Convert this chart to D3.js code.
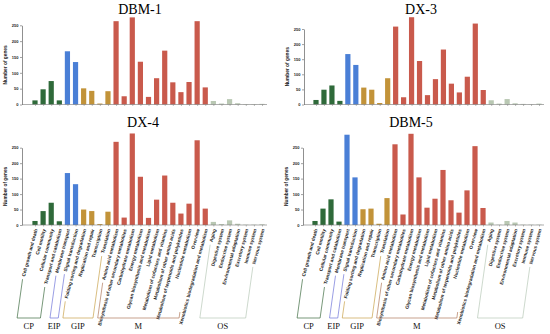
<!DOCTYPE html>
<html><head><meta charset="utf-8">
<script src="https://cdn.jsdelivr.net/npm/d3@7"></script>
<style>body{margin:0;background:#fff}svg{display:block}</style>
</head><body>
<script>
const categories = ["Cell growth and death","Cell motility","Cellular community","Transport and catabolism","Membrane transport","Signal transduction","Folding sorting and degradation","Replication and repair","Transcription","Translation","Amino acid metabolism","Biosynthesis of other secondary metabolites","Carbohydrate metabolism","Energy metabolism","Glycan biosynthesis and metabolism","Lipid metabolism","Metabolism of cofactors and vitamins","Metabolism of other amino acids","Metabolism of terpenoids and polyketides","Nucleotide metabolism","Overview","Xenobiotics biodegradation and metabolism","Aging","Digestive system","Endocrine system","Environmental adaptation","Excretory system","Immune system","Nervous system"];
const groups = ["CP","CP","CP","CP","EIP","EIP","GIP","GIP","GIP","GIP","M","M","M","M","M","M","M","M","M","M","M","M","OS","OS","OS","OS","OS","OS","OS"];
const groupNames = ["CP","EIP","GIP","M","OS"];
const dbm1 = [13,48,74,13,168,134,51,43,3,42,263,26,275,135,24,83,170,70,39,71,263,54,11,3,17,4,1,1,2];
const dx3  = [15,49,63,12,167,131,56,49,5,87,258,24,289,144,31,84,182,69,40,92,268,48,14,3,18,4,2,1,3];
const dx4  = [13,45,72,12,168,132,50,45,3,43,269,24,296,156,23,82,160,72,37,69,274,53,10,3,15,4,1,1,2];
const dbm5 = [13,53,83,11,292,154,51,53,4,87,261,34,295,154,56,85,178,80,40,112,255,55,8,1,13,8,1,1,1];
const yTicks = [0,50,100,150,200,250];

const W=550,H=334;
const svg=d3.select("body").append("svg").attr("width",W).attr("height",H);
const color=d3.scaleOrdinal().domain(groupNames).range(["#2f6a3a","#4a7fd6","#c29339","#c95a4c","#b9c8b3"]);
const bracketColor=d3.scaleOrdinal().domain(groupNames).range(["#3d6b40","#6f74d8","#c9a24a","#b07a5c","#b8c8b8"]);

const panels=[
 {title:"DBM-1",data:dbm1,ax:22,x0:35,x1:262,y0:104.5,y250:25.3,tx:140,ty:14,labels:false},
 {title:"DX-3",data:dx3,ax:304,x0:316,x1:539,y0:104.5,y250:29,tx:421,ty:14,labels:false},
 {title:"DX-4",data:dx4,ax:22,x0:35,x1:262,y0:225,y250:147.7,tx:143,ty:127,labels:true},
 {title:"DBM-5",data:dbm5,ax:303,x0:315,x1:539,y0:225,y250:147.7,tx:411,ty:127,labels:true}
];

panels.forEach(p=>{
  const g=svg.append("g");
  const x=d3.scalePoint().domain(categories).range([p.x0,p.x1]);
  const y=d3.scaleLinear().domain([0,250]).range([p.y0,p.y250]);
  g.append("text").attr("x",p.tx).attr("y",p.ty).attr("text-anchor","middle")
   .attr("font-family","Liberation Serif, serif").attr("font-size",14).text(p.title);
  g.selectAll("rect.bar").data(p.data).enter().append("rect")
   .attr("x",(d,i)=>x(categories[i])-2.6).attr("width",5.2)
   .attr("y",d=>y(d)).attr("height",d=>p.y0-y(d))
   .attr("fill",(d,i)=>color(groups[i]));
  const ya=g.append("g").attr("transform",`translate(${p.ax},0)`)
   .call(d3.axisLeft(y).tickValues(yTicks).tickSize(2).tickSizeOuter(0));
  ya.select(".domain").attr("stroke","#444").attr("stroke-width",0.6);
  ya.selectAll(".tick line").attr("stroke","#444").attr("stroke-width",0.5);
  ya.selectAll(".tick text").attr("font-size",4).attr("font-weight","bold").attr("x",-3.5)
   .attr("font-family","Liberation Sans, Arial, sans-serif").attr("fill","#222");
  g.append("text").attr("transform",`translate(${p.ax-15},${(p.y0+p.y250)/2}) rotate(-90)`)
   .attr("text-anchor","middle").attr("font-size",4.8).attr("font-weight","bold")
   .attr("font-family","Liberation Sans, Arial, sans-serif").attr("fill","#222").text("Number of genes");
  const xa=g.append("g").attr("transform",`translate(0,${p.y0})`)
   .call(d3.axisBottom(x).tickSize(1.5).tickFormat(""));
  xa.select(".domain").attr("stroke","#777").attr("stroke-width",0.6)
   .attr("d",`M${p.ax},0H${p.x1+5}`);
  xa.selectAll(".tick line").attr("stroke","#777").attr("stroke-width",0.5);
  if(p.labels){
    const ang=-75, rad=ang*Math.PI/180;
    const dir=[-Math.cos(rad),-Math.sin(rad)];
    const ly=p.y0+4;
    const lbl=g.selectAll("text.cat").data(categories).enter().append("text")
     .attr("class","cat")
     .attr("transform",c=>`translate(${x(c)+1},${ly}) rotate(${ang})`)
     .attr("text-anchor","end").attr("dy","0.35em")
     .attr("font-size",4.7).attr("font-weight","bold").attr("fill","#222")
     .attr("font-family","Liberation Sans, Arial, sans-serif").text(c=>c);
    const lens=lbl.nodes().map(n=>n.getComputedTextLength());
    const ends=categories.map((c,i)=>[x(c)+1+dir[0]*(lens[i]+3), ly+dir[1]*(lens[i]+3)]);
    const yb=318, slope=Math.tan(82*Math.PI/180);
    groupNames.forEach(gn=>{
      const idx=groups.map((gg,i)=>gg===gn?i:-1).filter(i=>i>=0);
      const a=ends[idx[0]], b=ends[idx[idx.length-1]];
      const aTop=[a[0],Math.min(a[1],yb-6)], bTop=[b[0],Math.min(b[1],yb-6)];
      const aBot=[aTop[0]-(yb-aTop[1])/slope,yb], bBot=[bTop[0]-(yb-bTop[1])/slope,yb];
      g.append("path").attr("d",d3.line()([aTop,aBot,bBot,bTop]))
       .attr("fill","none").attr("stroke",bracketColor(gn)).attr("stroke-width",0.7);
      g.append("text").attr("x",(aBot[0]+bBot[0])/2).attr("y",329).attr("text-anchor","middle")
       .attr("font-family","Liberation Serif, serif").attr("font-size",8.5).attr("fill","#111").text(gn);
    });
  }
});
</script>
</body></html>
